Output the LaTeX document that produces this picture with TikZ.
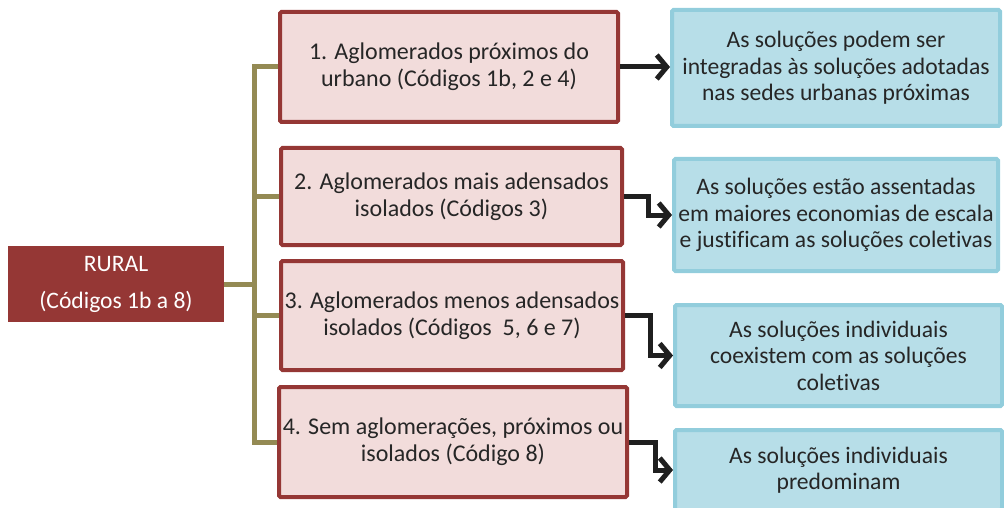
\documentclass[tikz,border=0pt]{standalone}
\usepackage{fontspec}
\setmainfont{Carlito}[Ligatures=NoCommon]
\usetikzlibrary{arrows.meta}
\definecolor{darkred}{HTML}{953735}
\definecolor{pinkfill}{HTML}{F2DCDB}
\definecolor{bluefill}{HTML}{B7DEE8}
\definecolor{blueline}{HTML}{92CDDC}
\definecolor{olive}{HTML}{948A54}
\definecolor{arrowc}{HTML}{1F1F1F}
\definecolor{txt}{HTML}{262626}
\tikzset{
  pinkbox/.style={draw=darkred, fill=pinkfill, line width=4pt, rounded corners=1.5pt,
    align=center, text=txt, font=\fontsize{24}{27}\selectfont, inner sep=0pt},
  bluebox/.style={draw=blueline, fill=bluefill, line width=4pt, rounded corners=1.5pt,
    align=center, text=txt, font=\fontsize{23.6}{26.5}\selectfont, inner sep=0pt},
  ruralbox/.style={fill=darkred, text=white, align=center,
    font=\fontsize{23.6}{37}\selectfont, inner sep=0pt},
  bus/.style={draw=olive, line width=5pt},
  conn/.style={draw=arrowc, line width=5pt, -{Straight Barb[length=10pt,width=24pt,line width=5pt]}},
}
\begin{document}
\begin{tikzpicture}[x=1pt,y=-1pt]
\useasboundingbox (0,0) rectangle (1004,508);
% RURAL
\node[ruralbox, minimum width=216pt, minimum height=76pt] (r) at (116,284) {RURAL\\(Códigos 1b a 8)};
% pink boxes
\node[pinkbox, minimum width=338pt, minimum height=110pt] (p1) at (449,67) {1. Aglomerados próximos do\\urbano (Códigos 1b, 2 e 4)};
\node[pinkbox, minimum width=341pt, minimum height=97pt] (p2) at (451.5,196.5) {2. Aglomerados mais adensados\\isolados (Códigos 3)};
\node[pinkbox, minimum width=342pt, minimum height=109pt] (p3) at (452,315.5) {3. Aglomerados menos adensados\\isolados (Códigos\ \ 5, 6 e 7)};
\node[pinkbox, minimum width=348pt, minimum height=110pt] (p4) at (453,442) {4. Sem aglomerações, próximos ou\\isolados (Código 8)};
% blue boxes
\node[bluebox, minimum width=328pt, minimum height=116pt] (b1) at (836,68) {As soluções podem ser\\integradas às soluções adotadas\\nas sedes urbanas próximas};
\node[bluebox, minimum width=324pt, minimum height=112pt] (b2) at (836,215) {As soluções estão assentadas\\em maiores economias de escala\\e justificam as soluções coletivas};
\node[bluebox, minimum width=327pt, minimum height=101pt] (b3) at (838.5,355.5) {As soluções individuais\\coexistem com as soluções\\coletivas};
\node[bluebox, minimum width=327pt, minimum height=80pt] (b4) at (838.5,470) {As soluções individuais\\predominam};
% olive bracket
\coordinate (bus) at (254,0);
\draw[bus] (p1.west) -| (bus |- p4.west) -- (p4.west);
\draw[bus] (r.east) -- (r.east -| bus);
\draw[bus] (bus |- p2.west) -- (p2.west);
\draw[bus] (bus |- p3.west) -- (p3.west);
% arrows
\draw[conn] (p1.east) -- (b1.west |- p1.east);
\draw[conn] (p2.east) -- ++(24,0) |- (b2.west);
\draw[conn] (p3.east) -- ++(25,0) |- (b3.west);
\draw[conn] (p4.east) -- ++(26,0) |- (b4.west);
\end{tikzpicture}
\end{document}
